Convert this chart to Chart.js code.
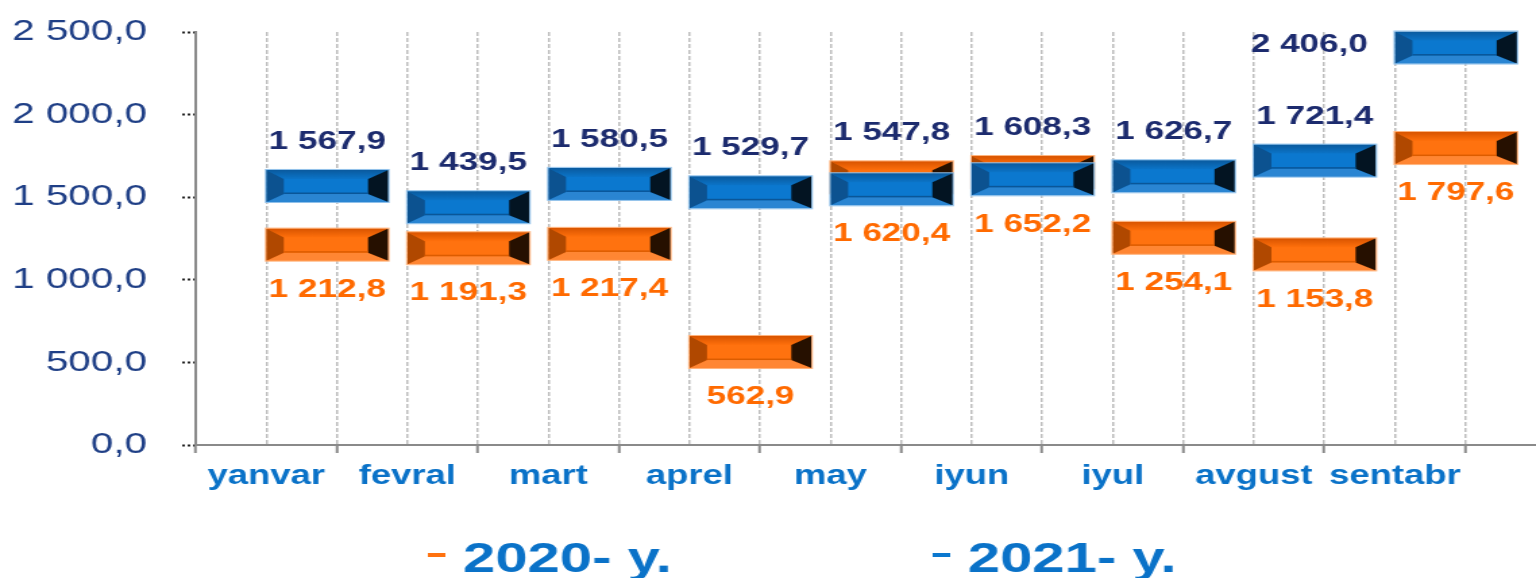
<!DOCTYPE html>
<html>
<head>
<meta charset="utf-8">
<script src="https://cdn.jsdelivr.net/npm/chart.js@4.4.1/dist/chart.umd.min.js"></script>
<style>
  html, body { margin: 0; padding: 0; background: #fff; overflow: hidden; }
  #wrap { width: 1536px; height: 578px; overflow: hidden; }
  /* the original picture is stretched sideways, so the canvas is too */
  #miGrafico { display: block; transform: scaleX(1.3497); transform-origin: 0 0; }
</style>
</head>
<body>
<div id="wrap"><canvas id="miGrafico" width="1138" height="578"></canvas></div>
<script>
const meses = ['yanvar', 'fevral', 'mart', 'aprel', 'may', 'iyun', 'iyul', 'avgust', 'sentabr'];
const y2020 = [1212.8, 1191.3, 1217.4, 562.9, 1620.4, 1652.2, 1254.1, 1153.8, 1797.6];
const y2021 = [1567.9, 1439.5, 1580.5, 1529.7, 1547.8, 1608.3, 1626.7, 1721.4, 2406.0];
const yTicks = [0, 500, 1000, 1500, 2000, 2500];
const leyenda = ['2020- y.', '2021- y.'];

const FONT = '"Liberation Sans", Arial, sans-serif';
const naranja = { face: '#ff720f', topA: '#d85400', topB: '#ff700c', bottom: '#ff8633', left: '#b04800', right: '#261000', line: '#dc5c00', edge: '#ffb27a' };
const azul = { face: '#0b78cf', topA: '#0a5a9e', topB: '#0b74c8', bottom: '#2a85d2', left: '#0c5290', right: '#031422', line: '#0a5698', edge: '#8fc0ea' };

const ancho = 0.865; // half bar width, in x units (bar starts on the month line)
const medio = 97;    // half bar height, in value units

function fmt(v) {
  const p = v.toFixed(1).split('.');
  return p[0].replace(/\B(?=(\d{3})+(?!\d))/g, ' ') + ',' + p[1];
}

const barras = (vals) => vals.map((v, i) => ({ x: 2 * i + 1 + ancho, y: [v - medio, v + medio] }));

function caja(el) {
  const p = el.getProps(['x', 'y', 'base', 'width'], true);
  return {
    x: p.x, left: p.x - p.width / 2, right: p.x + p.width / 2,
    top: Math.min(p.y, p.base), bottom: Math.max(p.y, p.base)
  };
}

function poly(ctx, pts, color) {
  ctx.beginPath();
  ctx.moveTo(pts[0][0], pts[0][1]);
  for (let k = 1; k < pts.length; k++) ctx.lineTo(pts[k][0], pts[k][1]);
  ctx.closePath();
  ctx.fillStyle = color;
  ctx.fill();
}

// bevelled look of each bar
const bisel = {
  id: 'bisel',
  afterDatasetDraw(chart, args) {
    const ctx = chart.ctx;
    const pal = chart.data.datasets[args.index].pal;
    const dxl = 13, dxr = 15, dyt = 9, dyb = 8;
    ctx.save();
    args.meta.data.forEach(el => {
      const b = caja(el);
      const l = b.left, r = b.right, t = b.top, bo = b.bottom;
      const g = ctx.createLinearGradient(0, t, 0, t + dyt);
      g.addColorStop(0, pal.topA);
      g.addColorStop(1, pal.topB);
      poly(ctx, [[l, t], [r, t], [r - dxr, t + dyt], [l + dxl, t + dyt]], g);
      poly(ctx, [[l, bo], [r, bo], [r - dxr, bo - dyb], [l + dxl, bo - dyb]], pal.bottom);
      poly(ctx, [[l, t], [l + dxl, t + dyt], [l + dxl, bo - dyb], [l, bo]], pal.left);
      poly(ctx, [[r, t], [r - dxr, t + dyt], [r - dxr, bo - dyb], [r, bo]], pal.right);
      ctx.fillStyle = pal.line;
      ctx.fillRect(l + dxl, bo - dyb - 1.5, r - l - dxl - dxr, 1.5);
      ctx.strokeStyle = pal.edge;
      ctx.lineWidth = 1;
      ctx.strokeRect(l - 0.5, t - 0.5, r - l + 1, bo - t + 1);
    });
    ctx.restore();
  }
};

// value labels: 2021 above, 2020 below
const etiquetas = {
  id: 'etiquetas',
  afterDatasetsDraw(chart) {
    const ctx = chart.ctx;
    const m20 = chart.getDatasetMeta(0), m21 = chart.getDatasetMeta(1);
    ctx.save();
    ctx.font = 'bold 26px ' + FONT;
    ctx.textBaseline = 'middle';
    meses.forEach((m, i) => {
      const a = caja(m20.data[i]), b = caja(m21.data[i]);
      const solapa = a.top < b.bottom && b.top < a.bottom;
      const arriba = solapa ? Math.min(a.top, b.top) : b.top;
      const abajo = solapa ? Math.max(a.bottom, b.bottom) : a.bottom;
      ctx.fillStyle = '#1c2b6e';
      if (arriba - 28 < chart.chartArea.top + 10) {
        ctx.textAlign = 'right';
        ctx.fillText(fmt(y2021[i]), b.left - 20, (b.top + b.bottom) / 2 - 3);
      } else {
        ctx.textAlign = 'center';
        ctx.fillText(fmt(y2021[i]), b.x, arriba - 28);
      }
      ctx.textAlign = 'center';
      ctx.fillStyle = '#ff6a00';
      ctx.fillText(fmt(y2020[i]), a.x, abajo + 29);
    });
    ctx.restore();
  }
};

// legend at the bottom, items far apart
const leyendaAbajo = {
  id: 'leyendaAbajo',
  afterDraw(chart) {
    const ctx = chart.ctx;
    const xs = [317, 691];
    ctx.save();
    ctx.font = 'bold 43px ' + FONT;
    ctx.textBaseline = 'middle';
    ctx.textAlign = 'left';
    chart.data.datasets.forEach((ds, i) => {
      ctx.fillStyle = ds.pal.face;
      ctx.fillRect(xs[i], 553, 13, 4);
      ctx.fillStyle = '#0a72c8';
      ctx.fillText(ds.label, xs[i] + 26, 560);
    });
    ctx.restore();
  }
};

const ctx = document.getElementById('miGrafico').getContext('2d');
const miGrafico = new Chart(ctx, {
  type: 'bar',
  data: {
    datasets: [{
      label: leyenda[0],
      data: barras(y2020),
      backgroundColor: naranja.face,
      pal: naranja,
      order: 1
    }, {
      label: leyenda[1],
      data: barras(y2021),
      backgroundColor: azul.face,
      pal: azul,
      order: 0
    }]
  },
  options: {
    responsive: false,
    devicePixelRatio: 1,
    animation: false,
    grouped: false,
    barPercentage: 1.73,
    categoryPercentage: 1,
    layout: { padding: { top: 32, right: 0, bottom: 73, left: 0 } },
    plugins: {
      legend: { display: false },
      tooltip: { enabled: false }
    },
    scales: {
      x: {
        type: 'linear',
        min: 0,
        max: 19,
        offset: false,
        afterBuildTicks: (s) => { s.ticks = Array.from({ length: 20 }, (_, k) => ({ value: k })); },
        afterFit: (s) => { s.height = 60; s.paddingLeft = 0; s.paddingRight = 0; },
        grid: {
          offset: false,
          color: (c) => c.tick && c.tick.value === 0 ? 'rgba(0,0,0,0)' : '#bdbdbd',
          lineWidth: 1.5,
          tickLength: 8,
          tickColor: (c) => c.tick && c.tick.value % 2 === 0 ? '#8a8a8a' : 'rgba(0,0,0,0)',
          tickWidth: 2
        },
        border: { color: '#8a8a8a', width: 2, dash: [4, 2] },
        ticks: {
          autoSkip: false,
          maxRotation: 0,
          minRotation: 0,
          padding: 7,
          color: '#0a72c8',
          font: { family: FONT, size: 27, weight: 'bold' },
          callback: (v) => v % 2 === 1 ? meses[(v - 1) / 2] : ''
        }
      },
      y: {
        min: 0,
        max: 2500,
        afterBuildTicks: (s) => { s.ticks = yTicks.map(v => ({ value: v })); },
        afterFit: (s) => { s.width = 145; s.paddingTop = 0; s.paddingBottom = 0; },
        grid: {
          drawOnChartArea: false,
          tickLength: 10,
          tickColor: '#222',
          tickWidth: 2,
          tickBorderDash: [2, 2]
        },
        border: { color: '#8a8a8a', width: 2 },
        ticks: {
          padding: 26,
          color: '#1f3f86',
          font: { family: FONT, size: 30 },
          callback: (v) => fmt(v)
        }
      }
    }
  },
  plugins: [bisel, etiquetas, leyendaAbajo]
});
</script>
</body>
</html>
